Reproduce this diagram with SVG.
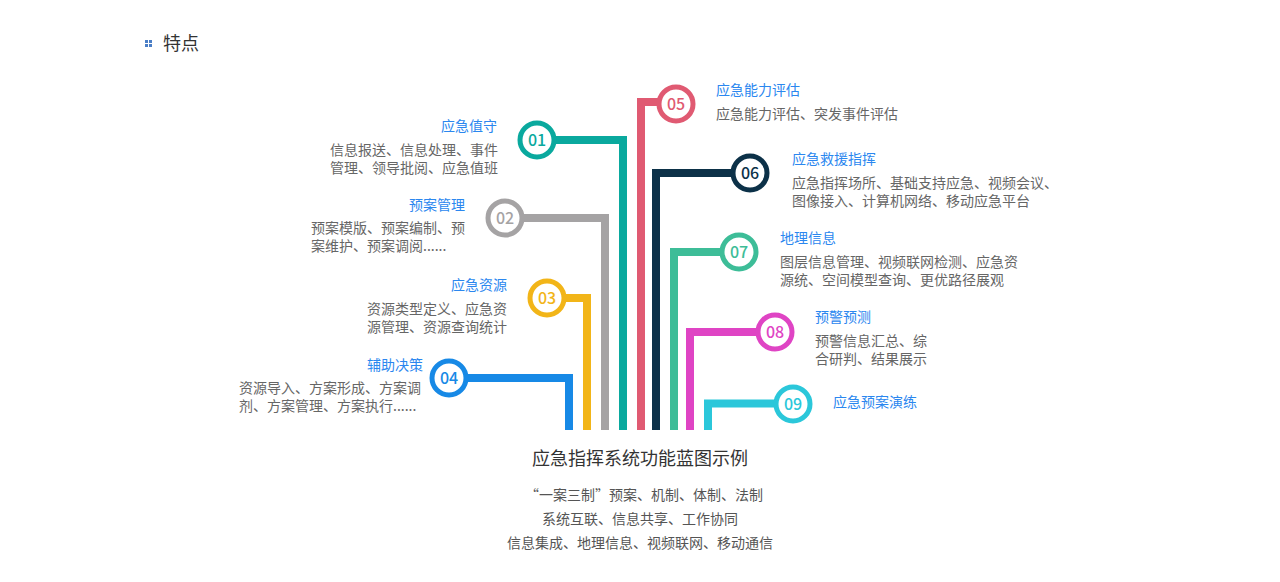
<svg xmlns="http://www.w3.org/2000/svg" width="1280" height="582" viewBox="0 0 1280 582">
<style>
text{font-family:"Noto Sans CJK SC","Microsoft YaHei",sans-serif;}
.t{font-size:14px;fill:#2b87ef;}
.d{font-size:14px;fill:#666;}
.n{font-size:16px;font-weight:500;text-anchor:middle;font-family:"Noto Sans CJK SC","Noto Sans",sans-serif;}
.r{fill:#fff;stroke-width:5;}
.c{fill:none;stroke-width:8;stroke-linejoin:miter;}
.e{text-anchor:end;}
.m{text-anchor:middle;}
</style>
<rect width="1280" height="582" fill="#fff"/>
<g id="header">
<rect x="145" y="40" width="3" height="3" fill="#4a7ec6"/>
<rect x="149" y="40" width="3" height="3" fill="#4a7ec6"/>
<rect x="145" y="44" width="3" height="3" fill="#4a7ec6"/>
<rect x="149" y="44" width="3" height="3" fill="#4a7ec6"/>
<text x="163" y="50" style="font-size:18px;fill:#333">特点</text>
</g>
<g id="connectors">
<path class="c" stroke="#1789e6" d="M452 378H569V430"/>
<path class="c" stroke="#f2b518" d="M550 298H587V430"/>
<path class="c" stroke="#a5a3a4" d="M508 218H605V430"/>
<path class="c" stroke="#0aa99e" d="M540 140H623V430"/>
<path class="c" stroke="#e05a72" d="M673 102H641V430"/>
<path class="c" stroke="#0c3148" d="M747 173H656V430"/>
<path class="c" stroke="#3dbd98" d="M736 252H674V430"/>
<path class="c" stroke="#df44c4" d="M771 332H690V430"/>
<path class="c" stroke="#2bc7da" d="M790 403.5H708V430"/>
</g>
<g id="n01">
<circle class="r" cx="537" cy="140" r="17" stroke="#0aa99e"/>
<text class="n" x="537" y="146" fill="#0aa99e">01</text>
<text class="t e" x="497" y="131">应急值守</text>
<text class="d" x="330" y="155">信息报送、信息处理、事件</text>
<text class="d" x="330" y="173">管理、领导批阅、应急值班</text>
</g>
<g id="n02">
<circle class="r" cx="505" cy="218" r="17" stroke="#a5a3a4"/>
<text class="n" x="505" y="224" fill="#a5a3a4">02</text>
<text class="t e" x="465" y="210">预案管理</text>
<text class="d" x="311" y="233">预案模版、预案编制、预</text>
<text class="d" x="311" y="251">案维护、预案调阅......</text>
</g>
<g id="n03">
<circle class="r" cx="547" cy="298" r="17" stroke="#f2b518"/>
<text class="n" x="547" y="304" fill="#f2b518">03</text>
<text class="t e" x="507" y="290">应急资源</text>
<text class="d" x="367" y="314">资源类型定义、应急资</text>
<text class="d" x="367" y="332">源管理、资源查询统计</text>
</g>
<g id="n04">
<circle class="r" cx="449" cy="378" r="17" stroke="#1789e6"/>
<text class="n" x="449" y="384" fill="#1789e6">04</text>
<text class="t e" x="423" y="370">辅助决策</text>
<text class="d" x="239" y="393">资源导入、方案形成、方案调</text>
<text class="d" x="239" y="411">剂、方案管理、方案执行......</text>
</g>
<g id="n05">
<circle class="r" cx="676" cy="104" r="17" stroke="#e05a72"/>
<text class="n" x="676" y="110" fill="#e05a72">05</text>
<text class="t" x="716" y="95">应急能力评估</text>
<text class="d" x="716" y="119">应急能力评估、突发事件评估</text>
</g>
<g id="n06">
<circle class="r" cx="750" cy="173" r="17" stroke="#0c3148"/>
<text class="n" x="750" y="179" fill="#0c3148">06</text>
<text class="t" x="792" y="164">应急救援指挥</text>
<text class="d" x="792" y="188">应急指挥场所、基础支持应急、视频会议、</text>
<text class="d" x="792" y="206">图像接入、计算机网络、移动应急平台</text>
</g>
<g id="n07">
<circle class="r" cx="739" cy="252" r="17" stroke="#3dbd98"/>
<text class="n" x="739" y="258" fill="#3dbd98">07</text>
<text class="t" x="780" y="243">地理信息</text>
<text class="d" x="780" y="267">图层信息管理、视频联网检测、应急资</text>
<text class="d" x="780" y="285">源统、空间模型查询、更优路径展观</text>
</g>
<g id="n08">
<circle class="r" cx="775" cy="332" r="17" stroke="#df44c4"/>
<text class="n" x="775" y="338" fill="#df44c4">08</text>
<text class="t" x="815" y="322">预警预测</text>
<text class="d" x="815" y="346">预警信息汇总、综</text>
<text class="d" x="815" y="364">合研判、结果展示</text>
</g>
<g id="n09">
<circle class="r" cx="793" cy="404" r="17" stroke="#2bc7da"/>
<text class="n" x="793" y="410" fill="#2bc7da">09</text>
<text class="t" x="833" y="407">应急预案演练</text>
</g>
<g id="footer">
<text class="m" x="640" y="465" style="font-size:18px;fill:#333">应急指挥系统功能蓝图示例</text>
<text class="m" x="644" y="500" style="font-size:14px;fill:#555">“一案三制”预案、机制、体制、法制</text>
<text class="m" x="640" y="524" style="font-size:14px;fill:#555">系统互联、信息共享、工作协同</text>
<text class="m" x="640" y="548" style="font-size:14px;fill:#555">信息集成、地理信息、视频联网、移动通信</text>
</g>
</svg>
